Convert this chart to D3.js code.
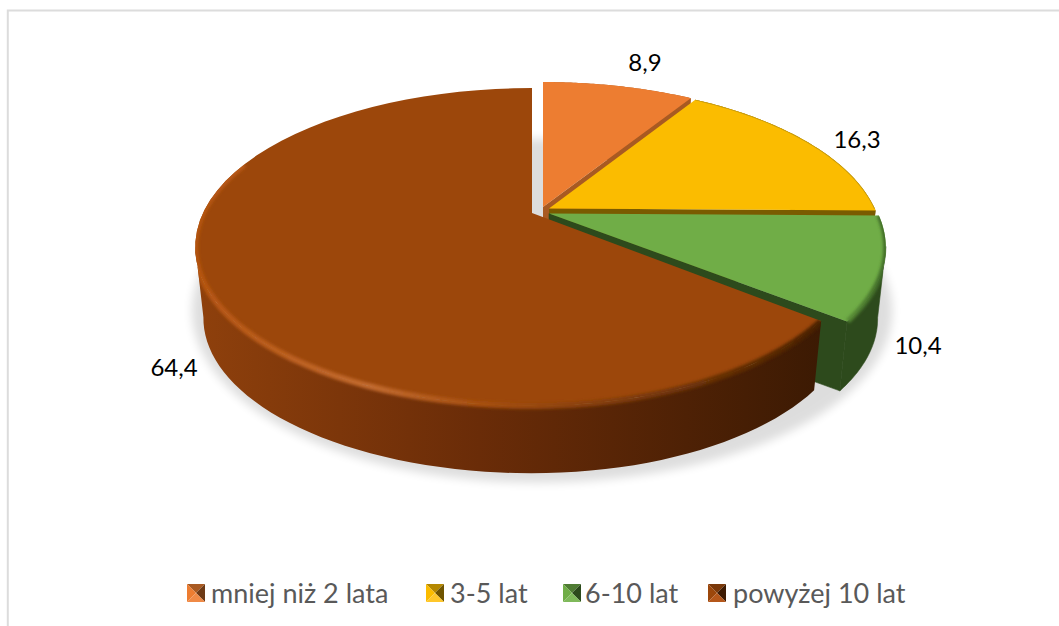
<!DOCTYPE html>
<html><head><meta charset="utf-8">
<style>html,body{margin:0;padding:0;background:#fff}svg{display:block}text{font-family:Lato,"Open Sans",sans-serif}</style>
<script src="https://cdn.jsdelivr.net/npm/d3@7/dist/d3.min.js"></script>
</head><body><svg id="c" width="1059" height="626"></svg>
<script>
const categories = ["mniej niż 2 lata","3-5 lat","6-10 lat","powyżej 10 lat"];
const values = [8.9,16.3,10.4,64.4];
const valueLabels = ["8,9","16,3","10,4","64,4"];

const topColors  = ["#ed7d31","#fbbc00","#70ad47","#9c470b"];
const wallColors = ["#a85a22","#7a5b00","#2d4a1c","#3e1b03"];
const sideStops  = [["#a85a22","#a85a22"],["#7a5b00","#7a5b00"],["#2d4a1c","#2d4a1c"],["#8e400c","#3c1a03"]];
const rimStops   = [null,null,
  [[0,"#5c9138"],[1,"#3f6a27"]],
  [[0,"#b5540f"],[.28,"#c26a2e"],[.45,"#a8500f"],[.7,"#7c3a08"],[1,"#4a2104"]]];
const rimRange   = [null,[32,90],[90,128],[128,290]];
const rimWidth   = [0,1.5,5,6];
const shiftX = [543,549,549,532];
const shiftY = [207,208.5,213.5,213];
const rightScale = [1,.99,1,.97];
const sideStart = [0,0,102,0];
const sideEnd = [360,360,360,258];
const labelPos = [[645,61],[857,138],[918,344],[174,366]];
const legendX = [187,426,563,708];
const legendTextX = [211,450,585,733];
const swatchShades = [
  ["#a95a22","#ed7d31","#6e3a16","#f08a46"],
  ["#b58800","#fbbc00","#6f5400","#ffc72a"],
  ["#4f7c33","#70ad47","#2c4a1c","#7fb95a"],
  ["#7a3809","#9c470b","#3e1b03","#b5571a"]];

const svg = d3.select("#c");
const defs = svg.append("defs");
const blur = (id,s)=>defs.append("filter").attr("id",id).attr("x","-10%").attr("y","-10%").attr("width","120%").attr("height","120%")
  .append("feGaussianBlur").attr("stdDeviation",s);
blur("sh",5); blur("rim",1.6);

svg.append("rect").attr("x",7.8).attr("y",10.5).attr("width",1070).attr("height",640)
  .attr("fill","#fff").attr("stroke","#dcdcdc").attr("stroke-width",2);

const pie = d3.pie().sort(null).value(d=>d).startAngle(0).endAngle(2*Math.PI);
const arcs = pie(values);
const K=.2139;
const proj=(t,cx,cy,a,b,rs)=>{const X=Math.sin(t),Z=-Math.cos(t),d=1-K*Z;return [cx+a*(X>0?rs:1)*X/d,cy+b*Z/d];};
const TOP={a:329,b:151.7,dy:0}, BOT={a:321,b:148,dy:72};
const P=(i,t,pl)=>proj(t,shiftX[i],shiftY[i]+pl.dy,pl.a,pl.b,rightScale[i]);
const arcPts=(i,t0,t1,pl)=>d3.range(0,61).map(j=>P(i,t0+(t1-t0)*j/60,pl));
const line=d3.line();
const apex=(i,pl)=>[shiftX[i],shiftY[i]+pl.dy];
const rad=d=>d*Math.PI/180;
const sector=(i,pl)=>line([apex(i,pl),...arcPts(i,arcs[i].startAngle,arcs[i].endAngle,pl)])+"Z";
const sidePath=i=>{const a=Math.max(arcs[i].startAngle,rad(sideStart[i])),b=Math.min(arcs[i].endAngle,rad(sideEnd[i]));
  return line([...arcPts(i,a,b,TOP),...arcPts(i,a,b,BOT).reverse()])+"Z";};
const wallPath=i=>{const e=arcs[i].endAngle;return line([apex(i,TOP),P(i,e,TOP),P(i,e,BOT),apex(i,BOT)])+"Z";};

// soft shadow of the whole disc
svg.append("path").attr("filter","url(#sh)").attr("opacity",.13).attr("fill","#000")
  .attr("d",line(d3.range(0,181).map(j=>proj(j*2*Math.PI/180,537,274,337,164,1.03)))+"Z");

arcs.forEach((d,i)=>{
  const g=svg.append("g");
  const gid="side"+i;
  const lg=defs.append("linearGradient").attr("id",gid).attr("gradientUnits","userSpaceOnUse")
    .attr("x1",i==3?200:830).attr("x2",i==3?820:885).attr("y1",0).attr("y2",0);
  lg.append("stop").attr("offset",0).attr("stop-color",sideStops[i][0]);
  if(i==3){lg.append("stop").attr("offset",.45).attr("stop-color","#6a2c08");}
  lg.append("stop").attr("offset",1).attr("stop-color",sideStops[i][1]);
  g.append("path").attr("d",sidePath(i)).attr("fill",`url(#${gid})`).attr("stroke",i==2?wallColors[2]:"none").attr("stroke-width",.6);
  g.append("path").attr("d",wallPath(i)).attr("fill",wallColors[i]).attr("stroke",i==2?wallColors[2]:"none").attr("stroke-width",.6);
  g.append("path").attr("d",sector(i,TOP)).attr("fill",topColors[i]);
  if(rimRange[i]){
    const cid="clip"+i;
    const cp=defs.append("clipPath").attr("id",cid);
    cp.append("path").attr("d",sector(i,TOP));
    cp.append("path").attr("d",sidePath(i));
    const a0=Math.max(rad(rimRange[i][0]),arcs[i].startAngle);
    const pts=arcPts(i,a0,rad(rimRange[i][1]),TOP);
    let stroke="#c49a10";
    if(rimStops[i]){
      const rg=defs.append("linearGradient").attr("id","rimg"+i).attr("gradientUnits","userSpaceOnUse")
        .attr("x1",i==3?195:840).attr("x2",i==3?820:885).attr("y1",0).attr("y2",0);
      rimStops[i].forEach(s=>rg.append("stop").attr("offset",s[0]).attr("stop-color",s[1]));
      stroke=`url(#rimg${i})`;
    }
    g.append("g").attr("clip-path",`url(#${cid})`).append("path").attr("d",line(pts)).attr("fill","none")
      .attr("stroke",stroke).attr("stroke-width",rimWidth[i]).attr("filter",i==1?null:"url(#rim)");
  }
});

svg.append("g").selectAll("text").data(valueLabels).join("text")
  .attr("x",(d,i)=>labelPos[i][0]).attr("y",(d,i)=>labelPos[i][1]).attr("text-anchor","middle")
  .attr("dominant-baseline","central").attr("font-size",24).attr("fill","#000").text(d=>d);

const leg=svg.append("g").selectAll("g").data(categories).join("g");
const S=18,LY=584;
leg.each(function(d,i){
  const g=d3.select(this),x=legendX[i],y=LY,c=[x+S/2,y+S/2];
  const tri=[[[x,y],[x+S,y]],[[x,y],[x,y+S]],[[x+S,y],[x+S,y+S]],[[x,y+S],[x+S,y+S]]];
  tri.forEach((t,j)=>g.append("path").attr("d",line([t[0],t[1],c])+"Z").attr("fill",swatchShades[i][j]));
  g.append("text").attr("x",legendTextX[i]).attr("y",592).attr("dominant-baseline","central")
    .attr("font-size",27).attr("fill","#595959").text(d);
});
</script></body></html>
